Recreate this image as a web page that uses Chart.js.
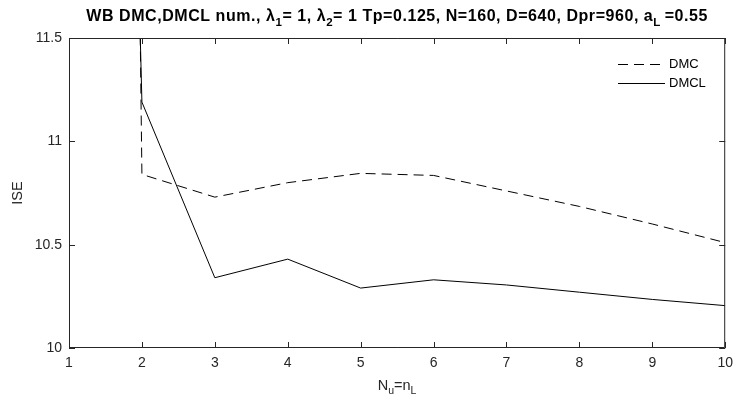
<!DOCTYPE html>
<html>
<head>
<meta charset="utf-8">
<script src="https://cdn.jsdelivr.net/npm/chart.js@4"></script>
<style>
  body { margin: 0; background: #fff; }
  canvas { display: block; }
</style>
</head>
<body>
<canvas id="plots" width="740" height="401"></canvas>
<script>
// data
var nu = [1, 2, 3, 4, 5, 6, 7, 8, 9, 10];
var dmc = [40, 10.84, 10.73, 10.80, 10.845, 10.835, 10.76, 10.685, 10.60, 10.51];
var dmcl = [25, 11.19, 10.34, 10.43, 10.29, 10.33, 10.305, 10.27, 10.235, 10.205];
var xTicks = [1, 2, 3, 4, 5, 6, 7, 8, 9, 10];
var yTicks = [10, 10.5, 11, 11.5];

var FONT = '"Liberation Sans", Arial, Helvetica, sans-serif';
var AXIS = '#262626';

// draw text made of pieces, some of them subscripts
function setFont(ctx, p, size, subSize, bold) {
  ctx.font = (bold ? 'bold ' : '') + (p.sub ? subSize : size) + 'px ' + FONT;
}
function drawRich(ctx, parts, cx, y, size, subSize, bold, spacing) {
  ctx.letterSpacing = (spacing || 0) + 'px';
  var w = 0;
  parts.forEach(function (p) { setFont(ctx, p, size, subSize, bold); w += ctx.measureText(p.t).width; });
  var x = cx - w / 2;
  ctx.textAlign = 'left';
  ctx.textBaseline = 'alphabetic';
  parts.forEach(function (p) {
    setFont(ctx, p, size, subSize, bold);
    ctx.fillText(p.t, x, p.sub ? y + size * 0.3 : y);
    x += ctx.measureText(p.t).width;
  });
  ctx.letterSpacing = '0px';
}

var titleParts = [
  {t: 'WB DMC,DMCL num., \u03bb'}, {t: '1', sub: true},
  {t: '= 1, \u03bb'}, {t: '2', sub: true},
  {t: '= 1 Tp=0.125, N=160, D=640, Dpr=960, a'}, {t: 'L ', sub: true},
  {t: '=0.55'}
];
var xLabelParts = [{t: 'N'}, {t: 'u', sub: true}, {t: '=n'}, {t: 'L', sub: true}];

var matlabLook = {
  id: 'matlabLook',
  afterDraw: function (chart) {
    var ctx = chart.ctx, a = chart.chartArea;
    var xs = chart.scales.x, ys = chart.scales.y;
    ctx.save();
    // box and inward ticks
    ctx.strokeStyle = AXIS;
    ctx.lineWidth = 1;
    ctx.beginPath();
    ctx.rect(a.left + 0.5, a.top + 0.5, a.right - a.left - 1, a.bottom - a.top - 1);
    xTicks.forEach(function (v) {
      var px = Math.round(xs.getPixelForValue(v)) + 0.5;
      ctx.moveTo(px, a.bottom); ctx.lineTo(px, a.bottom - 6);
      ctx.moveTo(px, a.top); ctx.lineTo(px, a.top + 6);
    });
    yTicks.forEach(function (v) {
      var py = Math.round(ys.getPixelForValue(v)) + 0.5;
      ctx.moveTo(a.left, py); ctx.lineTo(a.left + 6, py);
      ctx.moveTo(a.right, py); ctx.lineTo(a.right - 6, py);
    });
    ctx.stroke();

    // title and axis labels
    ctx.fillStyle = '#000';
    drawRich(ctx, titleParts, (a.left + a.right) / 2, 21, 16, 11.5, true, 0.55);
    ctx.fillStyle = AXIS;
    drawRich(ctx, xLabelParts, (a.left + a.right) / 2, 390, 14.5, 10.5, false, 0);
    ctx.save();
    ctx.translate(18, (a.top + a.bottom) / 2);
    ctx.rotate(-Math.PI / 2);
    ctx.font = '14.5px ' + FONT;
    ctx.textAlign = 'center';
    ctx.textBaseline = 'middle';
    ctx.fillText('ISE', 0, 0);
    ctx.restore();

    // legend
    ctx.font = '13px ' + FONT;
    ctx.textAlign = 'left';
    ctx.textBaseline = 'middle';
    chart.data.datasets.forEach(function (ds, i) {
      var y = 64 + i * 19 + 0.5;
      ctx.strokeStyle = '#000';
      ctx.lineWidth = 1;
      ctx.setLineDash(ds.borderDash || []);
      ctx.beginPath();
      ctx.moveTo(618, y); ctx.lineTo(665, y);
      ctx.stroke();
      ctx.setLineDash([]);
      ctx.fillStyle = '#000';
      ctx.fillText(ds.label, 669, y);
    });
    ctx.restore();
  }
};

var plots = document.getElementById('plots');
new Chart(plots, {
  type: 'line',
  data: {
    labels: nu,
    datasets: [{
      label: 'DMC',
      data: dmc,
      borderColor: '#000',
      borderWidth: 1,
      borderDash: [10, 6],
      pointRadius: 0,
      fill: false,
      tension: 0
    }, {
      label: 'DMCL',
      data: dmcl,
      borderColor: '#000',
      borderWidth: 1,
      pointRadius: 0,
      fill: false,
      tension: 0
    }]
  },
  options: {
    responsive: false,
    animation: false,
    layout: { padding: { top: 38, right: 11, left: 0, bottom: 0 } },
    plugins: { legend: { display: false }, title: { display: false }, tooltip: { enabled: false } },
    scales: {
      x: {
        type: 'linear',
        min: 1, max: 10,
        afterFit: function (s) { s.height = 53; },
        afterBuildTicks: function (s) { s.ticks = xTicks.map(function (v) { return {value: v}; }); },
        grid: { display: false, drawTicks: false },
        border: { display: false },
        ticks: { padding: 7, color: AXIS, font: { family: FONT, size: 14 },
                 callback: function (v) { return String(v); } }
      },
      y: {
        min: 10, max: 11.5,
        afterFit: function (s) { s.width = 69; },
        afterBuildTicks: function (s) { s.ticks = yTicks.map(function (v) { return {value: v}; }); },
        grid: { display: false, drawTicks: false },
        border: { display: false },
        ticks: { padding: 7, color: AXIS, font: { family: FONT, size: 14 },
                 callback: function (v) { return String(v); } }
      }
    }
  },
  plugins: [matlabLook]
});
</script>
</body>
</html>
